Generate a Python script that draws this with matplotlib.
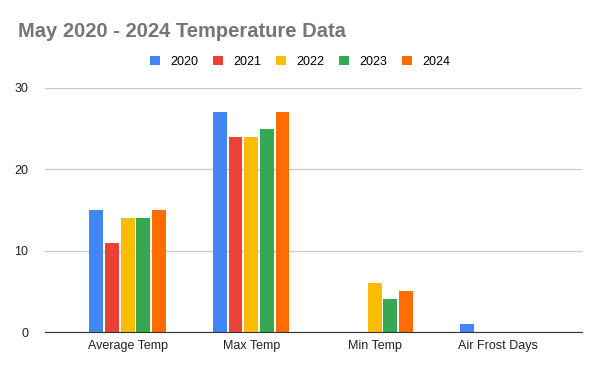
import numpy as np
import matplotlib
matplotlib.use('Agg')
import matplotlib.pyplot as plt

categories = ['Average Temp', 'Max Temp', 'Min Temp', 'Air Frost Days']
years = ['2020', '2021', '2022', '2023', '2024']
values = {
    '2020': [15, 27, 0, 1],
    '2021': [11, 24, 0, 0],
    '2022': [14, 24, 6, 0],
    '2023': [14, 25, 4, 0],
    '2024': [15, 27, 5, 0],
}
colors = ['#4285f4', '#ea4335', '#fbbc04', '#34a853', '#ff6d01']

plt.rcParams['font.family'] = ['Liberation Sans', 'DejaVu Sans']

fig = plt.figure(figsize=(6, 3.71), dpi=100)
ax = fig.add_axes([0.075, 0.105, 0.895, 0.658])

x = np.arange(len(categories))
slot = 0.127
width = 0.113
for i, yr in enumerate(years):
    ax.bar(x + (i - 2) * slot, values[yr], width, color=colors[i], label=yr, zorder=3)

ax.set_xlim(-0.67, 3.68)
ax.set_ylim(0, 30)
ax.set_yticks([0, 10, 20, 30])
ax.set_xticks(x)
ax.set_xticklabels(categories)
ax.tick_params(axis='both', length=0, labelsize=9, colors='#222222')
ax.tick_params(axis='x', pad=6)
ax.tick_params(axis='y', pad=12)
ax.grid(axis='y', color='#cccccc', linewidth=1, zorder=0)
for s in ['top', 'right', 'left']:
    ax.spines[s].set_visible(False)
ax.spines['bottom'].set_color('#333333')
ax.spines['bottom'].set_zorder(4)

fig.text(0.03, 0.915, 'May 2020 - 2024 Temperature Data', fontsize=14.5,
         fontweight='bold', color='#757575', va='center', ha='left')
fig.legend(loc='center', bbox_to_anchor=(0.5, 0.833), ncol=5, frameon=False,
           fontsize=9, handlelength=0.8, handleheight=0.8, handletextpad=0.8,
           columnspacing=1.2)

fig.savefig('out.png', dpi=100)
